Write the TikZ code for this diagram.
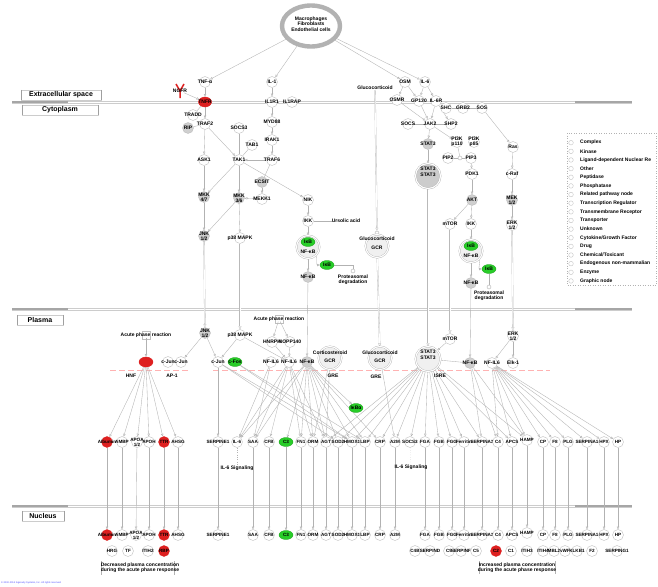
\documentclass[tikz,border=0pt]{standalone}
\usepackage{fontspec}
\setmainfont{Liberation Sans}
\usetikzlibrary{arrows.meta,shapes.geometric,calc}
\pgfdeclarelayer{bg}\pgfdeclarelayer{edges}
\pgfsetlayers{bg,edges,main}
\newcommand{\nf}{\fontsize{5}{5.3}\selectfont\bfseries}
\newcommand{\tf}{\fontsize{4.6}{5}\selectfont\bfseries}
\newcommand{\gnd}[5]{\node[#1,label={[lab]center:{#5}}] (#2) at (#3,#4) {};}
\definecolor{ipared}{RGB}{222,32,32}
\definecolor{ipagreen}{RGB}{40,205,40}
\begin{document}
\begin{tikzpicture}[x=1pt,y=-1pt,
 lab/.style={font=\nf, inner sep=0pt, align=center, text=black},
 tlab/.style={font=\tf, inner sep=0pt, align=center, text=black},
 gc/.style={circle, draw=gray!55, fill=white, line width=0.35pt, minimum size=11pt, inner sep=0pt},
 gk/.style={gc, fill=gray!38},
 rc/.style={gc, draw=ipared, fill=ipared},
 grc/.style={gc, ellipse, minimum width=14pt, minimum height=9pt, draw=ipagreen!80!black, fill=ipagreen},
 cx/.style={circle, draw=gray!60, line width=0.35pt, double=white, double distance=1.1pt, fill=gray!12, minimum size=23pt, inner sep=0pt},
 ar/.style={draw=gray!60, line width=0.35pt, -{Triangle[open, length=2.6pt, width=2.4pt]}},
 ln/.style={draw=gray!60, line width=0.35pt},
 trl/.style={draw=gray!55, line width=0.3pt, double=white, double distance=0.8pt, -{Triangle[open, length=3pt, width=3pt]}},
 regbox/.style={draw=gray!40, line width=0.3pt, minimum height=10pt, font=\fontsize{7}{8}\selectfont\bfseries, inner sep=0pt},
]
\useasboundingbox (0,0) rectangle (658,586);
\begin{pgfonlayer}{bg}
\fill[white] (0,0) rectangle (658,586);
\foreach \yy in {102,309,506}{
  \draw[gray!40, line width=0.35pt] (12,{\yy-1.2}) -- (632,{\yy-1.2}) (12,{\yy+1.2}) -- (632,{\yy+1.2});
  \draw[gray!70, line width=2.4pt] (12,\yy) -- (68,\yy) (575,\yy) -- (632,\yy);
}
\draw[red!30, line width=0.5pt, dash pattern=on 6pt off 3pt] (110,370) -- (190,370) (213,370) -- (550,370);
\draw[gray!50, line width=0.3pt] (142,331) rectangle (150,339) (275,315) rectangle (283,323);
\end{pgfonlayer}

% region labels
\node[regbox, minimum width=80pt] (Lext) at (61,95) {Extracellular space};
\node[regbox, minimum width=76pt] (Lcyt) at (60,110) {Cytoplasm};
\node[regbox, minimum width=46pt] (Lpla) at (40,320) {Plasma};
\node[regbox, minimum width=42pt] (Lnuc) at (43,516) {Nucleus};
\foreach \bx in {Lext,Lcyt,Lpla,Lnuc}{
  \draw[gray!75, line width=0.6pt] (\bx.north west) -- (\bx.south west) (\bx.north east) -- (\bx.south east);
}

% ring
\node[draw=gray!60, line width=4.4pt, ellipse, minimum width=58pt, minimum height=41pt, inner sep=0pt] (ring) at (311,26) {};
\node[lab] (ringtxt) at (311,24) {Macrophages\\Fibroblasts\\Endothelial cells};

% ---------- cytoplasm left
\gnd{gc}{TNFa}{205}{82}{TNF-α}
\draw[ipared, line width=1.5pt] (176,84) -- (180,91) -- (184,84) (180,91) -- (180,98);
\node[inner sep=0pt, minimum size=8pt, label={[lab]center:NGFR}] (NGFR) at (180,91) {};
\node[ellipse, draw=ipared, fill=ipared, minimum width=13pt, minimum height=10pt, inner sep=0pt, label={[lab]center:TNFR}] (TNFR) at (205,102) {};
\gnd{gc}{TRADD}{193}{115}{TRADD}
\gnd{gc}{TRAF2}{205}{124}{TRAF2}
\gnd{gk}{RIP}{188}{128}{RIP}
\gnd{gc}{SOCSa}{239}{128}{SOCS3}
\gnd{gc}{TAB1}{252}{145}{TAB1}
\gnd{gc}{ASK1}{204}{160}{ASK1}
\gnd{gc}{TAK1}{239}{160}{TAK1}
\gnd{gc}{TRAF6}{272}{160}{TRAF6}
\gnd{gc}{IRAK1}{272}{140}{IRAK1}
\gnd{gc}{MYD88}{272}{122}{MYD88}
\gnd{gc}{IL1R1}{272}{102}{IL1R1}
\gnd{gc}{IL1RAP}{292}{102}{IL1RAP}
\gnd{gc}{IL1}{272}{82}{IL-1}
\gnd{gk}{ECSIT}{262}{182}{ECSIT}
\gnd{gk}{MKKa}{204}{197}{MKK\\4/7}
\gnd{gk}{MKKb}{239}{198}{MKK\\3/6}
\gnd{gc}{MEKK1}{262}{199}{MEKK1}
\gnd{gc}{NIK}{308}{200}{NIK}
\gnd{gc}{IKKa}{308}{221}{IKK}
\node[lab] (UA) at (346,221) {Ursolic acid};
\node[cx] (cplxA) at (308,247) {};
\node[grc, label={[lab]center:IκB}] (IkAg) at (308,242) {};
\node[lab] at (308,252) {NF-κB};
\gnd{grc}{IkA}{327}{265}{IκB}
\gnd{gk}{NFkBa}{308}{277}{NF-κB}
\node[circle, draw=gray!60, fill=white, minimum size=4pt, inner sep=0pt] (PDa) at (353,271) {};
\node[lab] (PDat) at (353,280) {Proteasomal\\degradation};
\gnd{gk}{JNKc}{204}{236}{JNK\\1/2}
\gnd{gc}{pc}{240}{238}{p38 MAPK}

% glucocorticoid
\node[lab] (Gluc) at (375,88) {Glucocorticoid};
\node[circle, draw=gray!60, fill=white, minimum size=4pt, inner sep=0pt] (Gsm) at (377,233) {};
\node[cx] (GCRc) at (377,246) {};
\node[lab] at (377,239) {Glucocorticoid};
\node[lab] at (377,248) {GCR};

% ---------- cytoplasm right
\gnd{gc}{OSM}{405}{82}{OSM}
\gnd{gc}{IL6}{425}{82}{IL-6}
\gnd{gc}{OSMR}{397}{100}{OSMR}
\gnd{gc}{GP}{419}{101}{GP130}
\gnd{gc}{IL6R}{436}{101}{IL-6R}
\gnd{gc}{SHC}{446}{108}{SHC}
\gnd{gc}{GRB2}{463}{108}{GRB2}
\gnd{gc}{SOS}{482}{108}{SOS}
\gnd{gc}{SOCSb}{408}{124}{SOCS}
\gnd{gc}{JAK2}{430}{124}{JAK2}
\gnd{gc}{SHP2}{451}{124}{SHP2}
\gnd{gk}{STATc}{428}{144}{STAT3}
\gnd{gc}{PIa}{457}{142}{PI3K\\p110}
\gnd{gc}{PIb}{474}{142}{PI3K\\p85}
\gnd{gc}{PIP2}{448}{158}{PIP2}
\node[circle, draw=gray!60, fill=white, minimum size=4pt, inner sep=0pt] (PIPs) at (460,158) {};
\gnd{gc}{PIP3}{471}{158}{PIP3}
\gnd{gc}{PDK1}{472}{174}{PDK1}
\node[cx, fill=gray!40, minimum size=25pt] (STATcx) at (428,176) {};
\node[lab] at (428,172) {STAT3\\[1pt]STAT3};
\gnd{gc}{Ras}{513}{147}{Ras}
\gnd{gc}{cRaf}{512}{174}{c-Raf}
\gnd{gk}{MEK}{512}{200}{MEK\\1/2}
\gnd{gc}{ERKc}{512}{225}{ERK\\1/2}
\gnd{gk}{AKT}{472}{200}{AKT}
\gnd{gc}{mTORc}{450}{224}{mTOR}
\gnd{gc}{IKKb}{471}{224}{IKK}
\node[cx] (cplxB) at (471,251) {};
\node[grc, label={[lab]center:IκB}] (IkBg) at (471,246) {};
\node[lab] at (471,256) {NF-κB};
\gnd{grc}{IkB}{489}{269}{IκB}
\gnd{gk}{NFkBb}{471}{283}{NF-κB}
\node[circle, draw=gray!60, fill=white, minimum size=4pt, inner sep=0pt] (PDb) at (489,287) {};
\node[lab] (PDbt) at (489,296) {Proteasomal\\degradation};

% ---------- plasma regulators
\gnd{gk}{JNKp}{205}{333}{JNK\\1/2}
\gnd{gc}{pp}{240}{335}{p38 MAPK}
\node[lab] (APRl) at (146,335) {Acute phase reaction};
\node[lab] (APRc) at (279,319) {Acute phase reaction};
\node[ellipse, draw=ipared, fill=ipared, minimum width=14pt, minimum height=10pt, inner sep=0pt] (HNF) at (146,362) {};
\gnd{gc}{cJa}{168}{362}{c-Jun}
\gnd{gc}{cJb}{181}{362}{c-Jun}
\node[lab] (HNFl) at (131,376) {HNF};
\node[lab] (APl) at (172,376) {AP-1};
\gnd{gc}{cJc}{218}{362}{c-Jun}
\gnd{grc}{cFos}{235}{362}{c-Fos}
\gnd{gc}{HNRPH}{272}{342}{HNRPH}
\gnd{gc}{NOPP}{290}{342}{NOPP140}
\gnd{gc}{NFILa}{271}{362}{NF-IL6}
\gnd{gc}{NFILb}{289}{362}{NF-IL6}
\gnd{gk}{NFkBp}{307}{362}{NF-κB}
\node[cx] (GCRa) at (330,358) {};
\node[lab] at (330,353) {Corticosteroid};
\node[lab] at (330,361) {GCR};
\node[lab] (GREa) at (333,376) {GRE};
\node[cx] (GCRb) at (380,358) {};
\node[lab] at (380,353) {Glucocorticoid};
\node[lab] at (380,361) {GCR};
\node[lab] (GREb) at (376,377) {GRE};
\gnd{grc}{IkBa}{356}{408}{IκBα}
\gnd{gc}{mTORp}{450}{339}{mTOR}
\node[cx, minimum size=25pt] (STATp) at (428,359) {};
\node[lab] at (428,355) {STAT3\\[1pt]STAT3};
\node[lab] (ISRE) at (440,376) {ISRE};
\gnd{gk}{NFkBq}{470}{363}{NF-κB}
\gnd{gc}{NFILc}{492}{363}{NF-IL6}
\gnd{gc}{Elk}{513}{363}{Elk-1}
\gnd{gc}{ERKp}{513}{336}{ERK\\1/2}

% ---------- targets
\foreach \nm/\xx/\tx/\st in {Alb/107/Albumin/rc, AMBP/122/AMBP/gc, APOH/149/APOH/gc, TTR/164/TTR/rc, AHSG/178/AHSG/gc, SERP/218/SERPINE1/gc, SAA/253/SAA/gc, CFB/269/CFB/gc, CT/286/C3/grc, FN/301/FN1/gc, ORM/313/ORM/gc, AGT/326/AGT/gc, SOD/338/SOD2/gc, HMOX/352/HMOX1/gc, LBP/365/LBP/gc, CRP/380/CRP/gc, AM/395/A2M/gc, FGA/425/FGA/gc, FGB/439/FGB/gc, FGG/452/FGG/gc, FER/464/Ferritin/gc, SAt/482/SERPINA3/gc, CF/498/C4/gc, APCS/512/APCS/gc, CP/543/CP/gc, FE/555/F8/gc, PLG/568/PLG/gc, SAo/587/SERPINA1/gc, HPX/604/HPX/gc, HP/618/HP/gc}{
  \node[\st, label={[tlab]center:\tx}] (p\nm) at (\xx,442) {};
  \node[\st, label={[tlab]center:\tx}] (n\nm) at (\xx,535) {};
}
\node[gc, label={[tlab]center:{APOA\\1/2}}] (pAPOA) at (137,442) {};
\node[gc, label={[tlab]center:{APOA\\1/2}}] (nAPOA) at (136,535) {};
\node[gc, label={[tlab]center:HAMP}] (pHAMP) at (527,440) {};
\node[gc, label={[tlab]center:HAMP}] (nHAMP) at (527,533) {};
\node[gc, label={[tlab]center:IL-6}] (pIL) at (237,442) {};
\node[gc, label={[tlab]center:SOCS3}] (pSOCS) at (410,442) {};
\node[lab] (sigA) at (237,468) {IL-6 Signaling};
\node[lab] (sigB) at (411,467) {IL-6 Signaling};

% nucleus second row
\foreach \nm/\xx/\tx/\st in {HRG/112/HRG/gc, TF/128/TF/gc, ITa/148/ITIH2/gc, RBP/164/RBP/rc, CFB/415/C4B/gc, SPD/430/SERPIND/gc, CN/449/C9/gc, SPF/461/SERPINF/gc, CV/476/C5/gc, CT/496/C2/rc, CO/511/C1/gc, ITb/527/ITIH3/gc, ITc/543/ITIH4/gc, MBL/554/MBL2/gc, VWF/565/vWF/gc, KLK/577/KLKB1/gc, FT/592/F2/gc, SPG/617/SERPING1/gc}{
  \node[\st, label={[tlab]center:\tx}] (m\nm) at (\xx,551) {};
}
\node[lab] (decr) at (140,568) {Decreased plasma concentration\\during the acute phase response};
\node[lab] (incr) at (517,568) {Increased plasma concentration\\during the acute phase response};
\node[anchor=west, inner sep=0pt, font=\fontsize{2.4}{3}\selectfont, text=blue!70] (copy) at (1,583) {© 2000-2014 Ingenuity Systems, Inc. All rights reserved.};

% legend
\draw[gray!60, dotted, line width=0.5pt] (567,133) rectangle (656,285);
\foreach \tx [count=\ii] in {Complex, Kinase, Ligand-dependent Nuclear Re, Other, Peptidase, Phosphatase, Related pathway node, Transcription Regulator, Transmembrane Receptor, Transporter, Unknown, Cytokine/Growth Factor, Drug, Chemical/Toxicant, Endogenous non-mammalian, Enzyme, Graphic node}{
  \node[lab, anchor=west] at (580,{142.7+(\ii-1)*8.64}) {\tx};
  \draw[gray!45, line width=0.4pt] (571,{142.7+(\ii-1)*8.64}) circle (2.3pt);
}

% ---------- edges
\begin{pgfonlayer}{edges}
\draw[ar] (ring) -- (TNFa);
\draw[ar] (ring) -- (IL1);
\draw[ar] (ring) -- (OSM);
\draw[ar] (ring) -- (IL6);
\draw[ar] (TNFa) -- (TNFR);
\draw[ar] (NGFR) -- (TNFR);
\draw[ln] (TNFR) -- (TRADD);
\draw[ar] (TNFR) -- (TRAF2);
\draw[ln] (RIP) -- (TRAF2);
\draw[ar] (TRAF2) -- (ASK1);
\draw[ar] (TRAF2) -- (TAK1);
\draw[ln] (SOCSa) -- (TAK1);
\draw[ln] (TAB1) -- (TAK1);
\draw[ar] (TRAF6) -- (TAK1);
\draw[ar] (IL1) -- (IL1R1);
\draw[ar] (IL1R1) -- (MYD88);
\draw[ar] (MYD88) -- (IRAK1);
\draw[ar] (IRAK1) -- (TRAF6);
\draw[ln] (TRAF6) -- (ECSIT);
\draw[ar] (ECSIT) -- (MEKK1);
\draw[ar] (MEKK1) -- (MKKb);
\draw[ar] (TAK1) -- (MKKa);
\draw[ar] (TAK1) -- (MKKb);
\draw[ar] (TAK1) -- (NIK);
\draw[ar] (ASK1) -- (MKKa);
\draw[ar] (MKKa) -- (JNKc);
\draw[ar] (MKKb) -- (JNKc);
\draw[ar] (MKKb) -- (pc);
\draw[ar] (NIK) -- (IKKa);
\draw[ln] (IKKa) -- (UA);
\draw[ar] (IKKa) -- (cplxA);
\draw[ar] (cplxA) -- (NFkBa);
\draw[ar] (cplxA.south east) to[out=-70,in=180] (IkA);
\draw[ln] (IkA.east) -| (PDa);
\draw[trl] (JNKc) -- (JNKp);
\draw[trl] (pc) -- (pp);
\draw[ar] (NFkBa) -- (NFkBp);
\draw[trl] (Gluc) -- (Gsm);
\draw[trl] (GCRc) -- (GCRb);
\draw[ar] (OSM) -- (OSMR);
\draw[ar] (OSM) -- (GP);
\draw[ar] (IL6) -- (GP);
\draw[ar] (IL6) -- (IL6R);
\draw[ar] (OSMR) -- (JAK2);
\draw[ar] (GP) -- (JAK2);
\draw[ar] (IL6R) -- (JAK2);
\draw[ar] (IL6R) -- (SHP2);
\draw[ln] (SHC) -- (GRB2);
\draw[ln] (GRB2) -- (SOS);
\draw[ar] (SOS) -- (Ras);
\draw[ln] (SOCSb) -- (JAK2);
\draw[ln] (JAK2) -- (SHP2);
\draw[ar] (JAK2) -- (STATc);
\draw[ar] (JAK2) -- (PIa);
\draw[ln] (PIP2) -- (PIPs) -- (PIP3);
\draw[ln] (PIPs) -- (PIa);
\draw[ar] (PIP3) -- (PDK1);
\draw[ar] (PDK1) -- (AKT);
\draw[ar] (AKT) -- (mTORc);
\draw[ar] (AKT) -- (IKKb);
\draw[ar] (IKKb) -- (cplxB);
\draw[ar] (cplxB) -- (NFkBb);
\draw[ar] (cplxB.south east) to[out=-70,in=180] (IkB);
\draw[ln] (IkB) -- (PDb);
\draw[ar] (STATc) -- (STATcx);
\draw[trl] (STATcx) -- (STATp);
\draw[trl] (mTORc) -- (mTORp);
\draw[ar] (mTORp) -- (STATp);
\draw[ar] (NFkBb) -- (NFkBq);
\draw[ar] (Ras) -- (cRaf);
\draw[ar] (cRaf) -- (MEK);
\draw[ar] (MEK) -- (ERKc);
\draw[trl] (ERKc) -- (ERKp);
\draw[ar] (ERKp) -- (Elk);
\draw[ar] (ERKp) -- (NFILc);
\draw[draw=gray!60, line width=0.35pt, -{Bar[width=4pt]}] (NFkBq) -- (STATp);
% plasma
\draw[ar] (APRl) -- (HNF);
\draw[ar] (APRc) -- (HNRPH);
\draw[ar] (APRc) -- (NOPP);
\draw[ar] (HNRPH) -- (NFILb);
\draw[ar] (NOPP) -- (NFILb);
\draw[ar] (JNKp) -- (cJb);
\draw[ar] (JNKp) -- (cJc);
\draw[ar] (pp) -- (cJc);
\draw[ar] (pp) -- (NFILb);
\foreach \tg in {Alb,AMBP,APOA,APOH,TTR,AHSG} \draw[ar] (HNF) -- (p\tg);
\draw[ar] (cJc) -- (pSERP);
\foreach \tg in {SOD,HMOX} \draw[ar] (cJc) -- (p\tg);
\foreach \tg in {HMOX,LBP} \draw[ar] (cFos) -- (p\tg);
\foreach \tg in {IL,SAA} \draw[ar] (NFILa) -- (p\tg);
\foreach \tg in {IL,SAA,CFB,FN,ORM,AGT} \draw[ar] (NFILb) -- (p\tg);
\foreach \tg in {IL,SAA,CT,FN,ORM,AGT,SOD,HMOX,LBP,CRP} \draw[ar] (NFkBp) -- (p\tg);
\draw[ar] (NFkBp) -- (IkBa);
\foreach \tg in {AGT,ORM} \draw[ar] (GCRa) -- (p\tg);
\draw[ar] (GCRb) -- (pAM);
\foreach \tg in {AGT,SOD,HMOX,LBP,CRP,AM,SOCS,FGA,FGB,FGG,FER,SAt,APCS,HAMP} \draw[ar] (STATp) -- (p\tg);
\foreach \tg in {SAt,CF,HAMP} \draw[ar] (NFkBq) -- (p\tg);
\foreach \tg in {CF,APCS,HAMP,CP,FE,PLG,SAo,HPX,HP} \draw[ar] (NFILc) -- (p\tg);
\foreach \tg in {Alb,AMBP,APOA,APOH,TTR,AHSG,SERP,SAA,CFB,CT,FN,ORM,AGT,SOD,HMOX,LBP,CRP,AM,FGA,FGB,FGG,FER,SAt,CF,APCS,HAMP,CP,FE,PLG,SAo,HPX,HP} \draw[ar] (p\tg) -- (n\tg);
\draw[gray!60, line width=0.35pt, dotted] (pIL) -- (sigA);
\draw[gray!60, line width=0.35pt, dotted] (pSOCS) -- (sigB);
\draw[gray!60, line width=0.35pt] (101,561) -- (101,575) (174,561) -- (174,575) (479,561) -- (479,574) (555,561) -- (555,574);
\end{pgfonlayer}
\end{tikzpicture}
\end{document}
